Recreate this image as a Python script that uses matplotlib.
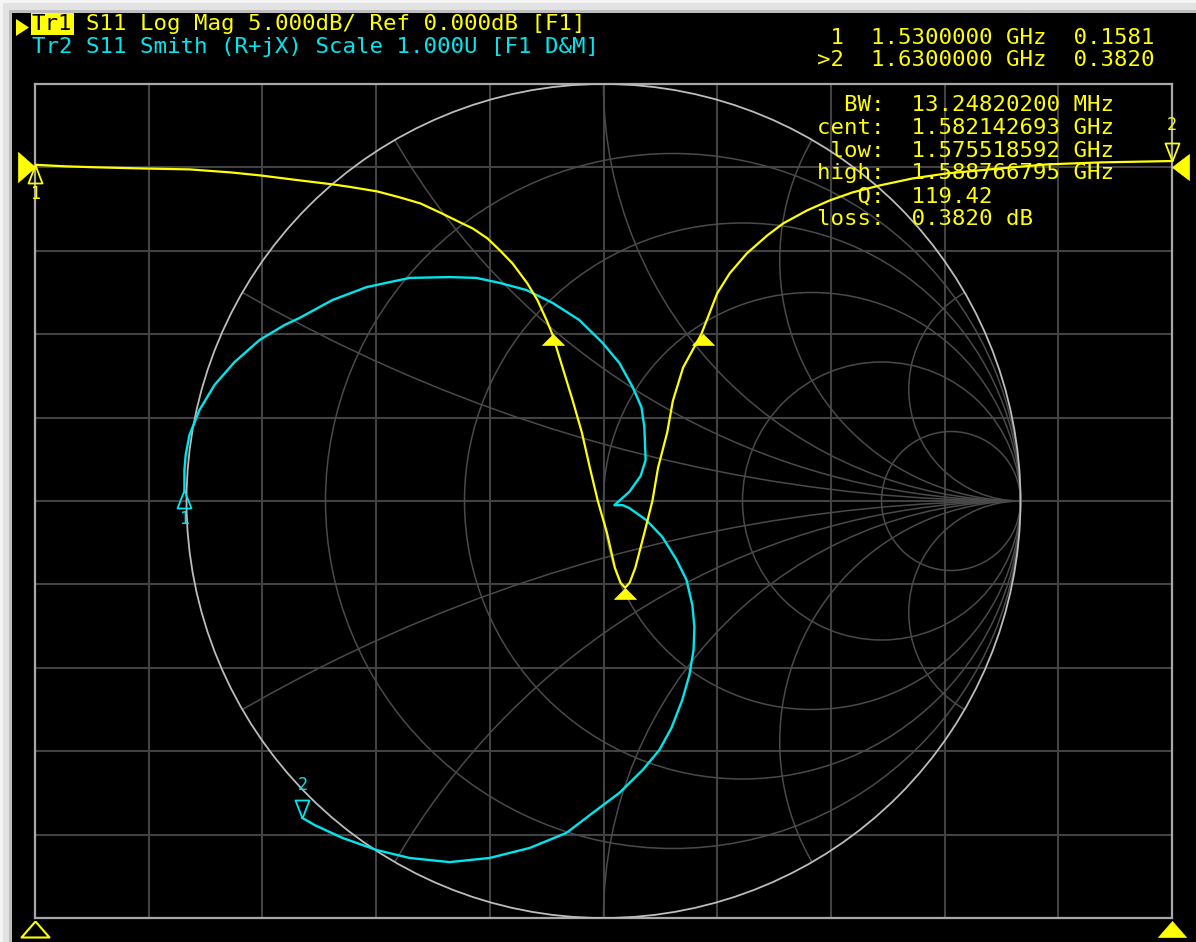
import numpy as np
import matplotlib
matplotlib.use("Agg")
import matplotlib.pyplot as plt
from matplotlib.patches import Circle, Rectangle, Polygon
import matplotlib.transforms as mtransforms

# ---------------- data ----------------
start_ghz, stop_ghz = 1.53, 1.63
ref_db, scale_db, ref_div = 0.0, 5.0, 9      # ref line one division below top
n_div = 10

tr1_freq_ghz = [1.5300, 1.5328, 1.5357, 1.5392, 1.5436, 1.5472, 1.5498, 1.5533, 1.5562,
                1.5577, 1.5601, 1.5621, 1.5639, 1.5656, 1.5674, 1.5685, 1.5698, 1.5709,
                1.5720, 1.5733, 1.5742, 1.5750, 1.5755, 1.5764, 1.5773, 1.5781, 1.5788,
                1.5795, 1.5803, 1.5810, 1.5815, 1.5819, 1.5823, 1.5828, 1.5836, 1.5843,
                1.5848, 1.5856, 1.5861, 1.5870, 1.5886, 1.5900, 1.5911, 1.5926, 1.5944,
                1.5958, 1.5979, 1.5999, 1.6019, 1.6043, 1.6072, 1.6102, 1.6149, 1.6190,
                1.6237, 1.6300]
tr1_db = [0.158, 0.06, 0.0, -0.06, -0.12, -0.30, -0.48, -0.78, -1.02,
          -1.17, -1.44, -1.80, -2.16, -2.70, -3.30, -3.66, -4.26, -4.98,
          -5.76, -6.95, -7.97, -9.17, -10.0, -12.0, -14.0, -15.9, -18.0,
          -20.0, -21.9, -24.0, -24.9, -25.2, -24.9, -24.0, -21.9, -20.0,
          -18.0, -15.9, -14.0, -12.0, -10.0, -7.55, -6.35, -5.16, -4.08,
          -3.36, -2.58, -1.98, -1.50, -1.08, -0.66, -0.36, -0.06, 0.18,
          0.30, 0.382]

tr2_re = [-1.005, -1.005, -1.002, -0.993, -0.969, -0.933, -0.885, -0.825, -0.765, -0.729,
          -0.650, -0.568, -0.465, -0.369, -0.305, -0.249, -0.185, -0.122, -0.058, -0.002,
          0.038, 0.070, 0.091, 0.098, 0.101, 0.089, 0.062, 0.026, 0.046, 0.062,
          0.103, 0.141, 0.175, 0.199, 0.213, 0.218, 0.216, 0.206, 0.189, 0.163,
          0.134, 0.094, 0.038, -0.026, -0.089, -0.177, -0.273, -0.369, -0.465, -0.544,
          -0.626, -0.693, -0.722]
tr2_im = [0.026, 0.074, 0.110, 0.158, 0.218, 0.278, 0.333, 0.386, 0.422, 0.439,
          0.482, 0.513, 0.535, 0.537, 0.535, 0.523, 0.506, 0.475, 0.434, 0.379,
          0.331, 0.273, 0.225, 0.177, 0.098, 0.060, 0.022, -0.010, -0.010, -0.017,
          -0.046, -0.086, -0.141, -0.189, -0.249, -0.302, -0.357, -0.417, -0.477, -0.544,
          -0.597, -0.645, -0.700, -0.748, -0.796, -0.832, -0.856, -0.866, -0.856, -0.837,
          -0.808, -0.777, -0.760]

smith_r_circles = [0.2, 0.5, 1.0, 2.0, 5.0]
smith_x_arcs = [0.268, 0.577, 1.0, 1.732, 3.732]

bw_low_ghz, bw_high_ghz, bw_level_db = 1.575518592, 1.588766795, -10.0

header1_tag = "Tr1"
header1 = "S11 Log Mag 5.000dB/ Ref 0.000dB [F1]"
header2 = "Tr2 S11 Smith (R+jX) Scale 1.000U [F1 D&M]"
marker_lines = [" 1  1.5300000 GHz  0.1581", ">2  1.6300000 GHz  0.3820"]
bw_lines = ["  BW:  13.24820200 MHz",
            "cent:  1.582142693 GHz",
            " low:  1.575518592 GHz",
            "high:  1.588766795 GHz",
            "   Q:  119.42",
            "loss:  0.3820 dB"]

# ---------------- style ----------------
W, H = 1196, 942
YEL = "#ffff00"
CYN = "#00e6ee"
GRID = "#424242"
SGRID = "#4a4a4a"
MONO = "DejaVu Sans Mono"
FS = 16.1
CH = 13.5  # character advance, px

fig = plt.figure(figsize=(W / 100, H / 100), dpi=100, facecolor="black")

def fx(px):
    return px / W

def fy(py):
    return 1 - py / H

# bevel frame (top / left)
ov = fig.add_axes([0, 0, 1, 1], zorder=0)
ov.set_xlim(0, W)
ov.set_ylim(H, 0)
ov.axis("off")
ov.add_patch(Rectangle((0, 0), W, 13, color="#e2e2e2", lw=0))
ov.add_patch(Rectangle((0, 0), 12, H, color="#e2e2e2", lw=0))
ov.add_patch(Rectangle((0, 0), W, 3, color="#f4f4f4", lw=0))
ov.add_patch(Rectangle((0, 0), 3, H, color="#f4f4f4", lw=0))
ov.add_patch(Rectangle((9, 10), W, 3, color="#bdbdbd", lw=0))
ov.add_patch(Rectangle((9, 10), 3, H, color="#bdbdbd", lw=0))
ov.add_patch(Polygon([(16, 19), (16, 36), (29, 27.5)], closed=True, color=YEL, lw=0))

pos = [fx(35), 1 - 918 / H, 1137 / W, 834 / H]

# rectangular grid axes
ax = fig.add_axes(pos, zorder=1)
ax.set_facecolor("black")
ax.set_xlim(start_ghz, stop_ghz)
top_db = ref_db + (n_div - ref_div) * scale_db
bot_db = ref_db - ref_div * scale_db
ax.set_ylim(bot_db, top_db)
ax.set_xticks(np.linspace(start_ghz, stop_ghz, n_div + 1))
ax.set_yticks(np.linspace(bot_db, top_db, n_div + 1))
ax.tick_params(length=0, labelbottom=False, labelleft=False)
ax.grid(True, color=GRID, lw=1.5)
for s in ax.spines.values():
    s.set_color("#a8a8a8")
    s.set_linewidth(1.6)

# smith axes
half_w = 1137 / 834
sax = fig.add_axes(pos, zorder=2)
sax.set_xlim(-half_w, half_w)
sax.set_ylim(-1, 1)
sax.patch.set_alpha(0)
sax.axis("off")
unit = Circle((0, 0), 1, transform=sax.transData)
for r in smith_r_circles:
    c = Circle((r / (1 + r), 0), 1 / (1 + r), fill=False, ec=SGRID, lw=1.1)
    sax.add_patch(c)
for xv in smith_x_arcs:
    for sgn in (1, -1):
        c = Circle((1, sgn / xv), 1 / xv, fill=False, ec=SGRID, lw=1.1)
        sax.add_patch(c)
        c.set_clip_path(unit)
sax.add_patch(Circle((0, 0), 1, fill=False, ec="#bcbcbc", lw=1.3))
sax.plot(tr2_re, tr2_im, color=CYN, lw=1.7, solid_joinstyle="round")

# log-mag trace axes (on top)
yax = fig.add_axes(pos, zorder=3, sharex=ax, sharey=ax)
yax.patch.set_alpha(0)
yax.axis("off")
yax.plot(tr1_freq_ghz, tr1_db, color=YEL, lw=1.6)

# ---------- markers ----------
tri_dn_fill = [(0, 0), (-11, -11), (11, -11), (0, 0)]   # apex at point, body below
yax.plot([bw_low_ghz, bw_high_ghz], [bw_level_db, bw_level_db], ls="none",
         marker=tri_dn_fill, ms=15.8, mfc=YEL, mec=YEL, mew=0.5, clip_on=False)
imin = int(np.argmin(tr1_db))
yax.plot([tr1_freq_ghz[imin]], [tr1_db[imin]], ls="none",
         marker=tri_dn_fill, ms=15.8, mfc=YEL, mec=YEL, mew=0.5, clip_on=False)

up_outline = [(0, 0), (-7, -18), (7, -18), (0, 0)]
dn_outline = [(0, 0), (-7, 18), (7, 18), (0, 0)]
ms_o = 36 * 0.72
yax.plot([tr1_freq_ghz[0]], [tr1_db[0]], ls="none", marker=up_outline, ms=ms_o,
         mfc="none", mec=YEL, mew=1.3, clip_on=False)
yax.plot([tr1_freq_ghz[-1]], [tr1_db[-1]], ls="none", marker=dn_outline, ms=ms_o,
         mfc="none", mec=YEL, mew=1.3, clip_on=False)
yax.annotate("1", (tr1_freq_ghz[0], tr1_db[0]), xytext=(0, -29 * 0.72),
             textcoords="offset points", ha="center", va="center", color=YEL,
             family=MONO, fontsize=12, annotation_clip=False)
yax.annotate("2", (tr1_freq_ghz[-1], tr1_db[-1]), xytext=(0, 36 * 0.72),
             textcoords="offset points", ha="center", va="center", color=YEL,
             family=MONO, fontsize=12, annotation_clip=False)

sax.plot([tr2_re[0]], [tr2_im[0]], ls="none", marker=up_outline, ms=ms_o,
         mfc="none", mec=CYN, mew=1.3, clip_on=False)
sax.plot([tr2_re[-1]], [tr2_im[-1]], ls="none", marker=dn_outline, ms=ms_o,
         mfc="none", mec=CYN, mew=1.3, clip_on=False)
sax.annotate("1", (tr2_re[0], tr2_im[0]), xytext=(0, -29 * 0.72),
             textcoords="offset points", ha="center", va="center", color=CYN,
             family=MONO, fontsize=12, annotation_clip=False)
sax.annotate("2", (tr2_re[-1], tr2_im[-1]), xytext=(0, 33 * 0.72),
             textcoords="offset points", ha="center", va="center", color=CYN,
             family=MONO, fontsize=12, annotation_clip=False)

# reference level arrows at the edges
bl = mtransforms.blended_transform_factory(yax.transAxes, yax.transData)
yax.plot([0], [ref_db], transform=bl, ls="none", marker=[(0, 0), (-17, 15), (-17, -15), (0, 0)],
         ms=34 * 0.72, mfc=YEL, mec=YEL, mew=0.5, clip_on=False)
yax.plot([1], [ref_db], transform=bl, ls="none", marker=[(0, 0), (17, 13), (17, -13), (0, 0)],
         ms=34 * 0.72, mfc=YEL, mec=YEL, mew=0.5, clip_on=False)
# start / stop arrows below the grid
bx = mtransforms.blended_transform_factory(yax.transAxes, yax.transAxes)
tri_up_base = [(0, 0), (-14, -16), (14, -16), (0, 0)]
yax.plot([0], [-0.003], transform=bx, ls="none", marker=tri_up_base, ms=32 * 0.72,
         mfc="none", mec=YEL, mew=1.5, clip_on=False)
yax.plot([1], [-0.003], transform=bx, ls="none", marker=tri_up_base, ms=32 * 0.72,
         mfc=YEL, mec=YEL, mew=0.5, clip_on=False)

# ---------- texts ----------
def t(px, py, s, color, **kw):
    fig.text(fx(px), fy(py), s, color=color, family=MONO, fontsize=FS,
             va="center", ha="left", zorder=10, **kw)

t(32, 24, header1_tag, "black", bbox=dict(facecolor=YEL, edgecolor="none", pad=0.8))
t(32 + 4 * CH, 24, header1, YEL)
t(32, 47, header2, CYN)
for i, s in enumerate(marker_lines):
    t(817, 38 + 22 * i, s, YEL)
for i, s in enumerate(bw_lines):
    t(817, 105 + 22.8 * i, s, YEL)

fig.savefig("out.png", dpi=100, facecolor="black")
